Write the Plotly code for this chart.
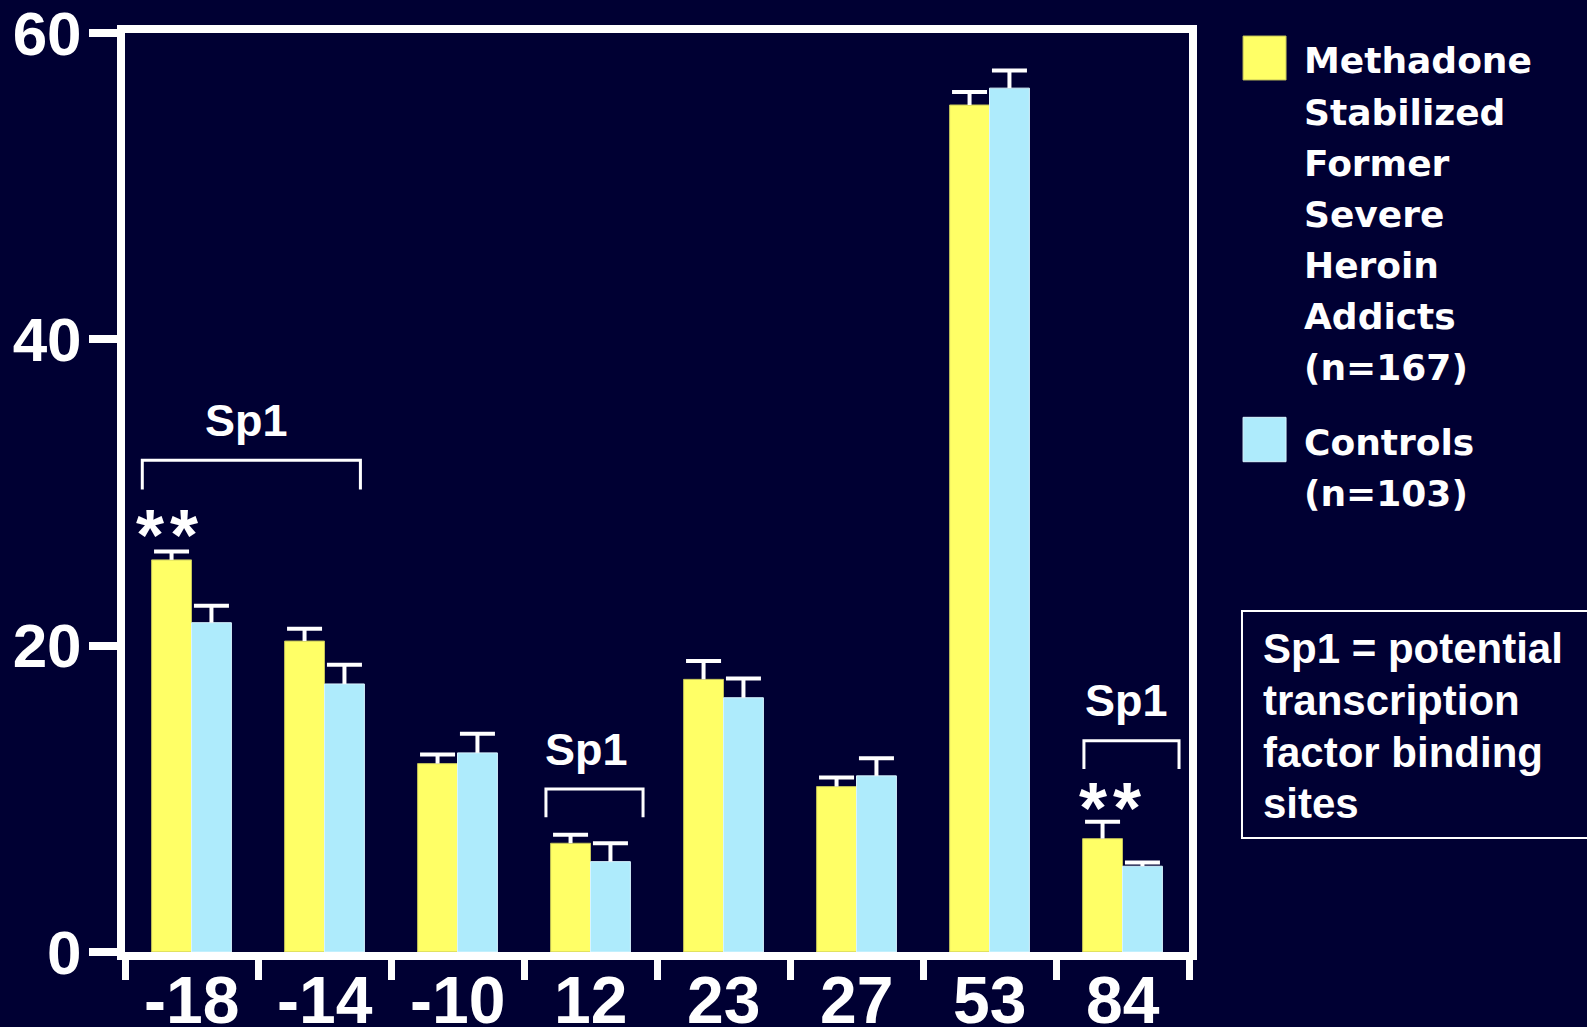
import numpy as np
import plotly.graph_objects as go

# Promoter positions and percentages (mean with upper SEM) per group
positions = ["-18", "-14", "-10", "12", "23", "27", "53", "84"]
methadone = [25.6, 20.3, 12.3, 7.1, 17.8, 10.8, 55.3, 7.4]
methadone_sem = [0.55, 0.8, 0.6, 0.55, 1.2, 0.6, 0.85, 1.1]
controls = [21.5, 17.5, 13.0, 5.9, 16.6, 11.5, 56.4, 5.6]
controls_sem = [1.1, 1.25, 1.25, 1.2, 1.25, 1.15, 1.15, 0.25]
y_ticks = [0, 20, 40, 60]

legend_methadone = ["Methadone", "Stabilized", "Former", "Severe",
                    "Heroin", "Addicts", "(n=167)"]
legend_controls = ["Controls", "(n=103)"]
note_lines = ["Sp1 = potential", "transcription", "factor binding", "sites"]

BG = "#000033"
YELLOW = "#FFFF66"
BLUE = "#AEEBFC"
WHITE = "#FFFFFF"
BOLD = "Liberation Sans, Arial, sans-serif"
WIDE = "DejaVu Sans, Verdana, sans-serif"


def bold_font(family, size):
    return dict(family=family, size=size, color=WHITE, weight="bold")


idx = np.arange(len(positions))
BAR_W = 0.3
zeros = [0] * len(positions)

fig = go.Figure()

fig.add_bar(
    x=idx, y=methadone, width=BAR_W, offset=-BAR_W,
    marker=dict(color=YELLOW, line=dict(color="#c2c25a", width=1)),
    error_y=dict(type="data", symmetric=False, array=methadone_sem,
                 arrayminus=zeros, width=0, thickness=4, color=WHITE),
    name="Methadone", showlegend=False,
)
fig.add_bar(
    x=idx, y=controls, width=BAR_W, offset=0,
    marker=dict(color=BLUE, line=dict(color="#d8f4ff", width=1)),
    error_y=dict(type="data", symmetric=False, array=controls_sem,
                 arrayminus=zeros, width=0, thickness=4, color=WHITE),
    name="Controls", showlegend=False,
)

# Caps on top of the SEM whiskers
for vals, sem, shift in ((methadone, methadone_sem, -BAR_W / 2),
                         (controls, controls_sem, BAR_W / 2)):
    fig.add_scatter(
        x=idx + shift, y=np.array(vals) + np.array(sem), mode="markers",
        marker=dict(symbol="line-ew", size=25,
                    line=dict(color=WHITE, width=4)),
        hoverinfo="skip", showlegend=False, cliponaxis=False,
    )

shapes = []
annotations = []

# Position labels under each category
for i, lab in enumerate(positions):
    annotations.append(dict(x=i, y=-0.0103, xref="x", yref="paper", text=lab,
                            showarrow=False, yanchor="top",
                            font=bold_font(BOLD, 66)))

# Sp1 brackets with labels and significance stars
brackets = [(-0.37, 1.27, 30.2, 32.1), (2.665, 3.395, 8.8, 10.65),
            (6.71, 7.425, 11.95, 13.8)]
for x0, x1, ylo, yhi in brackets:
    shapes.append(dict(type="path", xref="x", yref="y",
                       path=f"M {x0},{ylo} L {x0},{yhi} L {x1},{yhi} L {x1},{ylo}",
                       line=dict(color=WHITE, width=3)))
for xx, yy in ((0.41, 34.7), (2.97, 13.25), (7.03, 16.45)):
    annotations.append(dict(x=xx, y=yy, xref="x", yref="y", text="Sp1",
                            showarrow=False, font=bold_font(BOLD, 45)))
for xx, yy in ((-0.184, 27.2), (6.906, 9.37)):
    annotations.append(dict(x=xx, y=yy, xref="x", yref="y", text="*\u200a*",
                            showarrow=False, font=bold_font(BOLD, 72)))

# Legend swatches and labels
shapes.append(dict(type="rect", xref="paper", yref="paper",
                   x0=1.0508, x1=1.0912, y0=0.9489, y1=0.9967,
                   fillcolor=YELLOW, line=dict(color="#c2c25a", width=1)))
shapes.append(dict(type="rect", xref="paper", yref="paper",
                   x0=1.0508, x1=1.0912, y0=0.5335, y1=0.5818,
                   fillcolor=BLUE, line=dict(color="#d8f4ff", width=1)))
for i, line in enumerate(legend_methadone):
    annotations.append(dict(x=1.1059, y=0.9697 - i * 0.0557, xref="paper",
                            yref="paper", text=line, showarrow=False,
                            xanchor="left", yanchor="middle",
                            font=bold_font(WIDE, 36)))
for i, line in enumerate(legend_controls):
    annotations.append(dict(x=1.1059, y=0.5549 - i * 0.0555, xref="paper",
                            yref="paper", text=line, showarrow=False,
                            xanchor="left", yanchor="middle",
                            font=bold_font(WIDE, 36)))

# Note box explaining Sp1
shapes.append(dict(type="rect", xref="paper", yref="paper",
                   x0=1.0498, x1=1.40, y0=0.124, y1=0.371,
                   fillcolor=BG, line=dict(color=WHITE, width=2)))
for i, line in enumerate(note_lines):
    annotations.append(dict(x=1.0680, y=0.3300 - i * 0.0562, xref="paper",
                            yref="paper", text=line, showarrow=False,
                            xanchor="left", yanchor="middle",
                            font=bold_font(BOLD, 42)))

fig.update_layout(
    width=1587, height=1027,
    margin=dict(l=125, r=398, t=33, b=75, pad=0, autoexpand=False),
    paper_bgcolor=BG, plot_bgcolor=BG,
    barmode="overlay",
    shapes=shapes, annotations=annotations,
    showlegend=False,
)

fig.update_xaxes(
    range=[-0.5, len(positions) - 0.5],
    tickmode="array", tickvals=idx, showticklabels=False,
    ticks="", showgrid=False, zeroline=False, automargin=False,
    showline=True, linewidth=8, linecolor=WHITE, mirror=True,
    minor=dict(ticks="outside", tick0=-0.5, dtick=1, ticklen=20,
               tickwidth=7, tickcolor=WHITE, showgrid=False),
)
fig.update_yaxes(
    range=[0, 60], tickmode="array", tickvals=y_ticks,
    ticks="outside", ticklen=28, tickwidth=8, tickcolor=WHITE,
    showgrid=False, zeroline=False, automargin=False,
    showline=True, linewidth=8, linecolor=WHITE, mirror=True,
    tickfont=bold_font(BOLD, 62),
    ticklabelstandoff=-5, ticklabeloverflow="allow",
)

fig.write_html("out.html")
